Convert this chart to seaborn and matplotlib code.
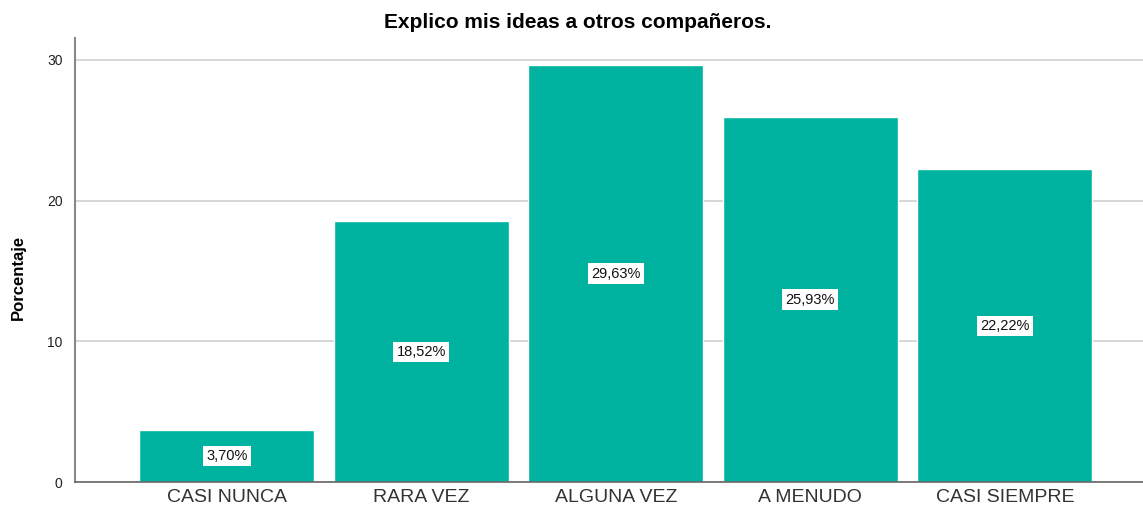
import numpy as np
import pandas as pd
import matplotlib
matplotlib.use("Agg")
import matplotlib.pyplot as plt
import seaborn as sns

# Data
categorias = ["CASI NUNCA", "RARA VEZ", "ALGUNA VEZ", "A MENUDO", "CASI SIEMPRE"]
porcentajes = [3.70, 18.52, 29.63, 25.93, 22.22]
etiquetas = ["3,70%", "18,52%", "29,63%", "25,93%", "22,22%"]

df = pd.DataFrame({"categoria": categorias, "porcentaje": porcentajes})

sns.set_style("white")
plt.rcParams["font.family"] = ["Liberation Sans", "DejaVu Sans"]

fig = plt.figure(figsize=(11.43, 5.09), dpi=100)
ax = fig.add_axes([0.0656, 0.053, 0.9344, 0.872])

ax.yaxis.grid(True, color="#d0d0d0", linewidth=1.2)
ax.set_axisbelow(True)

sns.barplot(data=df, x="categoria", y="porcentaje", color="#00b3a0",
            saturation=1, width=0.9, ax=ax)

# value labels in white boxes, centred in each bar
for i, (v, lab) in enumerate(zip(porcentajes, etiquetas)):
    ax.text(i, v / 2, lab, ha="center", va="center", fontsize=10.5, color="#111111",
            bbox=dict(boxstyle="square,pad=0.22", facecolor="white", edgecolor="none"))

ax.set_xlim(-0.78, 4.71)
ax.set_ylim(0, 31.55)
ax.set_yticks([0, 10, 20, 30])
ax.tick_params(axis="y", labelsize=10, length=0, pad=9, colors="#222222")
ax.tick_params(axis="x", labelsize=14, length=0, pad=5, colors="#333333")

ax.set_xlabel("")
ax.set_ylabel("Porcentaje", fontsize=12, fontweight="bold", color="black")
ax.yaxis.set_label_coords(-0.046, 0.46)
fig.suptitle("Explico mis ideas a otros compañeros.", fontsize=15, fontweight="bold",
             x=0.505, y=0.975, va="top", color="black")

for s in ["top", "right"]:
    ax.spines[s].set_visible(False)
ax.spines["left"].set_color("#888888")
ax.spines["left"].set_linewidth(1.5)
ax.spines["bottom"].set_color("#666666")
ax.spines["bottom"].set_linewidth(1.2)

fig.savefig("out.png", dpi=100)
